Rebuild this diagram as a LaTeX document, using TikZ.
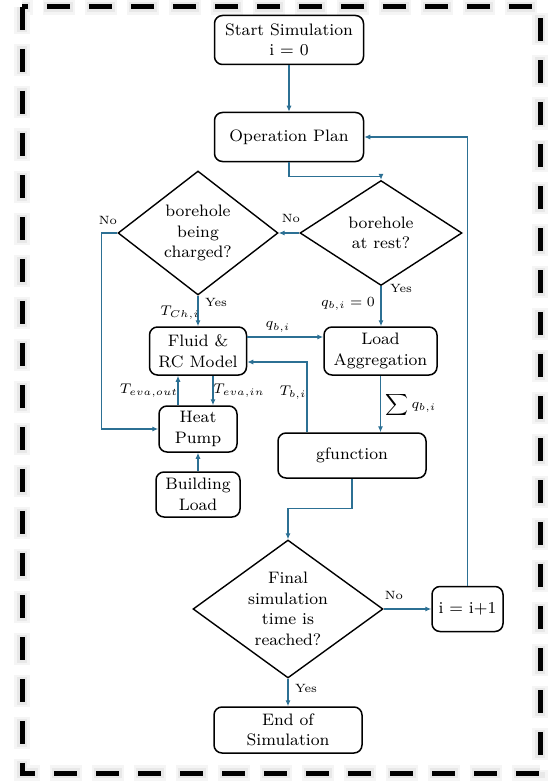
\documentclass[tikz,border=0pt]{standalone}
\usepackage{amsmath}
\usepackage{amssymb}
\usepackage{xcolor}
\usepackage{tikz}
\usetikzlibrary{calc,shapes,arrows.meta,positioning}
\definecolor{flowblue}{RGB}{44,112,148}

\begin{document}
\begin{tikzpicture}[x=0.5pt, y=-0.5pt,
	box/.style = {draw, line width=0.75pt, rounded corners=4pt, align=center, inner sep=1pt,
		font=\fontsize{8.3}{10.3}\selectfont},
	decision/.style = {draw, diamond, line width=0.7pt, align=center, inner sep=0pt,
		font=\fontsize{8.3}{10.3}\selectfont},
	flow/.style = {draw=flowblue, line width=0.7pt, -{Latex[length=3pt,width=2.6pt]}},
	tag/.style = {font=\fontsize{6}{7}\selectfont, inner sep=0pt},
	var/.style = {font=\fontsize{7.5}{9}\selectfont, inner sep=0pt}]
	
	\useasboundingbox (0,0) rectangle (550,781);
	
	% dashed frame with a soft shadow
	\draw[black!4, line width=8pt, dash pattern=on 16pt off 5pt, dash phase=2.25pt] (22,7) rectangle (540,773);
	\draw[black!9, line width=5pt, dash pattern=on 14pt off 7pt, dash phase=1.25pt] (22,7) rectangle (540,773);
	\draw[black, line width=2.5pt, dash pattern=on 11.5pt off 9.5pt] (22,7) rectangle (540,773);
	
	% blocks
	\node[box, minimum width=74.5pt, minimum height=24.5pt] (start) at (289,40) {Start Simulation\\ i = 0};
	\node[box, minimum width=74.5pt, minimum height=24.5pt] (plan) at (289,137) {Operation Plan};
	\node[decision, minimum width=80pt, minimum height=62pt, aspect=1.29] (charged) at (198,233) {borehole\\ being\\ charged?};
	\node[decision, minimum width=81pt, minimum height=52.5pt, aspect=1.54] (rest) at (381,233) {borehole\\ at rest?};
	\node[box, minimum width=48.5pt, minimum height=24pt] (fluid) at (198,351) {Fluid \&\\ RC Model};
	\node[box, minimum width=56.5pt, minimum height=24pt] (aggr) at (380.5,351) {Load\\ Aggregation};
	\node[box, minimum width=39pt, minimum height=23pt] (hpump) at (198,429) {Heat\\ Pump};
	\node[box, minimum width=42pt, minimum height=22.5pt] (bload) at (198,494.5) {Building\\ Load};
	\node[box, minimum width=74pt, minimum height=22.5pt] (gfun) at (352,455.5) {gfunction};
	\node[decision, minimum width=95pt, minimum height=69pt, aspect=1.38] (final) at (288,609) {Final\\ simulation\\ time is\\ reached?};
	\node[box, minimum width=35.5pt, minimum height=22.5pt] (incr) at (467.5,609) {i = i+1};
	\node[box, minimum width=74pt, minimum height=23pt] (endsim) at (288,730) {End of\\ Simulation};
	
	% connectors
	\draw[flow] (start) -- (plan);
	\draw[flow] (plan.south) -- ++(0,14) -| (rest.north);
	\draw[flow] (rest.west) -- (charged.east);
	\draw[flow] (charged.west) -- ++(-16,0) |- (hpump.west);
	\draw[flow] (charged.south) -- (fluid.north);
	\draw[flow] (rest.south) -- (rest.south |- aggr.north);
	\draw[flow] ([yshift=7pt]fluid.east) -- ([yshift=7pt]fluid.east -| aggr.west);
	\draw[flow] (aggr.south) -- (aggr.south |- gfun.north);
	\draw[flow] ([xshift=-22.5pt]gfun.north) |- ([yshift=-5.5pt]fluid.east);
	\draw[flow] ([xshift=-10pt]hpump.north) -- ([xshift=-10pt]fluid.south);
	\draw[flow] ([xshift=7.5pt]fluid.south) -- ([xshift=7.5pt]hpump.north);
	\draw[flow] (bload) -- (hpump);
	\draw[flow] (gfun.south) -- ++(0,30) -| (final.north);
	\draw[flow] (final.east) -- (incr.west);
	\draw[flow] (incr.north) |- (plan.east);
	\draw[flow] (final.south) -- (endsim.north);
	
	% labels
	\node[tag] (nocharged) at (108,220) {No};
	\node[tag] (norest) at (291,218) {No};
	\node[tag] (yescharged) at (216,302) {Yes};
	\node[tag] (yesrest) at (401,288) {Yes};
	\node[tag] (nofinal) at (394,595) {No};
	\node[tag] (yesfinal) at (306,688) {Yes};
	\node[var] (tch) at (180,313) {$T_{Ch,i}$};
	\node[var] (qzero) at (348,304) {$q_{b,i} = 0$};
	\node[var] (qb) at (278,327) {$q_{b,i}$};
	\node[var] (tb) at (293,393) {$T_{b,i}$};
	\node[var] (tout) at (149,391) {$T_{eva,out}$};
	\node[var] (tin) at (239,391) {$T_{eva,in}$};
	\node[var] (qsum) at (411,405) {$\displaystyle\sum q_{b,i}$};
\end{tikzpicture}
\end{document}
